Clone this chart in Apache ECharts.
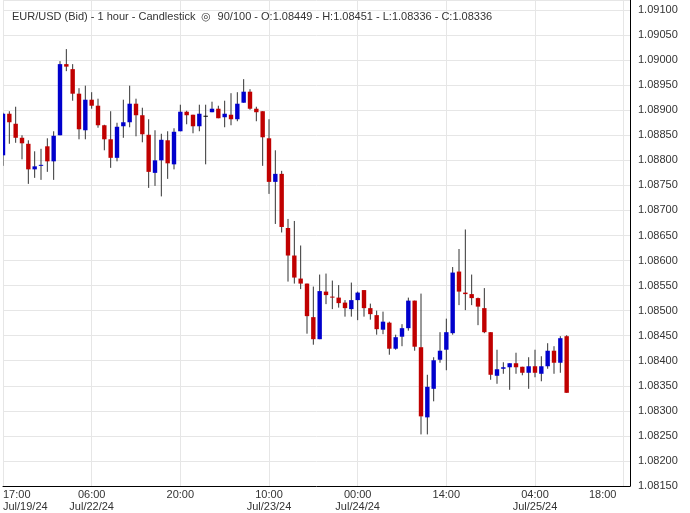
<!DOCTYPE html>
<html>
<head>
<meta charset="utf-8">
<script src="https://cdn.jsdelivr.net/npm/echarts@6/dist/echarts.min.js"></script>
<style>
html,body{margin:0;padding:0;background:#fff}
#main{width:690px;height:513px}
</style>
</head>
<body>
<div id="main"></div>
<script>
// open, close, low, high
var candles = [
  [1.08810,1.08893,1.08789,1.08895],[1.08893,1.08876,1.08833,1.08898],[1.08873,1.08845,1.08835,1.08907],
  [1.08845,1.08834,1.08802,1.08850],[1.08833,1.08782,1.08753,1.08840],[1.08782,1.08788,1.08765,1.08818],
  [1.08790,1.08791,1.08761,1.08823],[1.08828,1.08798,1.08777,1.08844],[1.08798,1.08849,1.08761,1.08858],
  [1.08850,1.08992,1.08850,1.08998],[1.08992,1.08987,1.08978,1.09022],[1.08982,1.08933,1.08919,1.08992],
  [1.08933,1.08862,1.08842,1.08944],[1.08860,1.08921,1.08842,1.08949],[1.08921,1.08909,1.08903,1.08936],
  [1.08909,1.08870,1.08865,1.08923],[1.08870,1.08842,1.08820,1.08871],[1.08842,1.08805,1.08785,1.08898],
  [1.08805,1.08867,1.08798,1.08875],[1.08868,1.08876,1.08845,1.08921],[1.08876,1.08913,1.08866,1.08949],
  [1.08913,1.08890,1.08848,1.08923],[1.08890,1.08852,1.08836,1.08905],[1.08851,1.08777,1.08745,1.08882],
  [1.08775,1.08800,1.08749,1.08860],[1.08800,1.08841,1.08728,1.08853],[1.08840,1.08794,1.08763,1.08858],
  [1.08792,1.08857,1.08782,1.08864],[1.08858,1.08897,1.08858,1.08911],[1.08897,1.08890,1.08872,1.08899],
  [1.08891,1.08868,1.08854,1.08891],[1.08868,1.08893,1.08858,1.08911],[1.08889,1.08889,1.08792,1.08911],
  [1.08896,1.08903,1.08896,1.08917],[1.08903,1.08884,1.08884,1.08909],[1.08886,1.08893,1.08866,1.08919],
  [1.08891,1.08882,1.08870,1.08934],[1.08882,1.08913,1.08878,1.08936],[1.08915,1.08937,1.08915,1.08962],
  [1.08937,1.08903,1.08901,1.08942],[1.08903,1.08896,1.08878,1.08907],[1.08898,1.08846,1.08789,1.08898],
  [1.08844,1.08757,1.08733,1.08882],[1.08757,1.08773,1.08673,1.08820],[1.08773,1.08667,1.08656,1.08779],
  [1.08665,1.08610,1.08558,1.08683],[1.08610,1.08566,1.08554,1.08679],[1.08564,1.08554,1.08543,1.08630],
  [1.08554,1.08489,1.08454,1.08554],[1.08487,1.08443,1.08432,1.08548],[1.08443,1.08539,1.08443,1.08572],
  [1.08538,1.08531,1.08513,1.08574],[1.08528,1.08527,1.08503,1.08560],[1.08526,1.08515,1.08506,1.08551],
  [1.08516,1.08505,1.08488,1.08521],[1.08503,1.08521,1.08488,1.08556],[1.08521,1.08536,1.08481,1.08538],
  [1.08541,1.08505,1.08488,1.08541],[1.08505,1.08493,1.08482,1.08514],[1.08491,1.08463,1.08452,1.08500],
  [1.08462,1.08478,1.08453,1.08498],[1.08476,1.08424,1.08412,1.08478],[1.08424,1.08447,1.08422,1.08452],
  [1.08448,1.08465,1.08429,1.08473],[1.08465,1.08520,1.08460,1.08526],[1.08520,1.08428,1.08420,1.08520],
  [1.08427,1.08289,1.08253,1.08534],[1.08287,1.08348,1.08253,1.08372],[1.08344,1.08401,1.08319,1.08407],
  [1.08402,1.08420,1.08396,1.08457],[1.08422,1.08457,1.08381,1.08484],[1.08455,1.08576,1.08452,1.08587],
  [1.08578,1.08538,1.08511,1.08623],[1.08536,1.08533,1.08501,1.08662],[1.08533,1.08525,1.08511,1.08572],
  [1.08525,1.08508,1.08471,1.08526],[1.08505,1.08457,1.08455,1.08545],[1.08457,1.08372,1.08362,1.08457],
  [1.08370,1.08383,1.08354,1.08422],[1.08384,1.08387,1.08374,1.08397],[1.08387,1.08395,1.08342,1.08395],
  [1.08395,1.08387,1.08374,1.08416],[1.08388,1.08376,1.08371,1.08388],[1.08376,1.08389,1.08344,1.08407],
  [1.08389,1.08376,1.08367,1.08422],[1.08374,1.08389,1.08359,1.08409],[1.08389,1.08420,1.08384,1.08435],
  [1.08420,1.08396,1.08374,1.08429],[1.08396,1.08445,1.08376,1.08449],[1.08449,1.08336,1.08336,1.08451]
];
var slotCount = 100;
var tickLabels = {
  0: '17:00\nJul/19/24', 14: '06:00\nJul/22/24', 28: '20:00', 42: '10:00\nJul/23/24',
  56: '00:00\nJul/24/24', 70: '14:00', 84: '04:00\nJul/25/24', 98: '{r|18:00}'
};
var lastPrice = 1.08336;

var categories = [];
for (var i = 0; i < slotCount; i++) categories.push(i);
var seriesData = candles.map(function (c, i) { return [i, c[0], c[1], c[2], c[3]]; });

var myChart = echarts.init(document.getElementById('main'));
var option = {
  backgroundColor: '#fff',
  animation: false,
  title: {
    text: 'EUR/USD (Bid) - 1 hour - Candlestick  \u25CE  90/100 - O:1.08449 - H:1.08451 - L:1.08336 - C:1.08336',
    left: 7, top: 6,
    textStyle: { fontSize: 11, fontWeight: 'normal', color: '#333', fontFamily: 'Liberation Sans, Arial' }
  },
  grid: { left: 0, right: 60, top: 0, bottom: 26 },
  xAxis: {
    type: 'category', data: categories, boundaryGap: false,
    axisLine: { lineStyle: { color: '#000' } },
    axisTick: { show: false },
    axisLabel: {
      interval: function (i) { return tickLabels[i] !== undefined; },
      formatter: function (v, i) { return tickLabels[i] || ''; },
      color: '#333', fontSize: 11, lineHeight: 12, margin: 3,
      fontFamily: 'Liberation Sans, Arial', alignMinLabel: 'left',
      rich: { r: { fontSize: 11, color: '#333', padding: [0, 42, 0, 0], fontFamily: 'Liberation Sans, Arial' } }
    },
    splitLine: { show: true, interval: function (i) { return tickLabels[i] !== undefined; }, lineStyle: { color: '#e6e6e6' } }
  },
  yAxis: {
    type: 'value', position: 'right', min: 1.0815, max: 1.0912, interval: 0.0005,
    axisLine: { show: true, lineStyle: { color: '#000' } },
    axisTick: { show: false },
    axisLabel: {
      formatter: function (v) { return v.toFixed(5); }, showMaxLabel: false,
      color: '#333', fontSize: 11, margin: 8, fontFamily: 'Liberation Sans, Arial'
    },
    splitLine: { lineStyle: { color: '#e6e6e6' } }
  },
  series: [{
    type: 'custom',
    clip: true,
    data: seriesData,
    encode: { x: 0, y: [1, 2, 3, 4] },
    renderItem: function (params, api) {
      var x = api.value(0), o = api.value(1), c = api.value(2), lo = api.value(3), hi = api.value(4);
      var pH = api.coord([x, hi]), pL = api.coord([x, lo]);
      var pO = api.coord([x, o]), pC = api.coord([x, c]);
      var w = 4.4;
      var top = Math.min(pO[1], pC[1]), h = Math.max(Math.abs(pO[1] - pC[1]), 1);
      var col = c > o ? '#0000cc' : (c < o ? '#c00000' : '#000');
      return {
        type: 'group',
        children: [
          { type: 'line', shape: { x1: pH[0], y1: pH[1], x2: pL[0], y2: pL[1] }, style: { stroke: '#333', lineWidth: 1 } },
          { type: 'rect', shape: { x: pO[0] - w / 2, y: top, width: w, height: h }, style: { fill: col } }
        ]
      };
    }
  }, {
    type: 'line',
    data: [],
    markLine: {
      symbol: 'none', silent: true,
      lineStyle: { color: '#000', type: [3, 3], width: 1 },
      label: {
        position: 'end', formatter: lastPrice.toFixed(5), color: '#fff', backgroundColor: '#c00000',
        padding: [2, 3], fontSize: 11, fontFamily: 'Liberation Sans, Arial', distance: 2
      },
      data: [{ yAxis: lastPrice }]
    }
  }]
};
myChart.setOption(option);
</script>
</body>
</html>
